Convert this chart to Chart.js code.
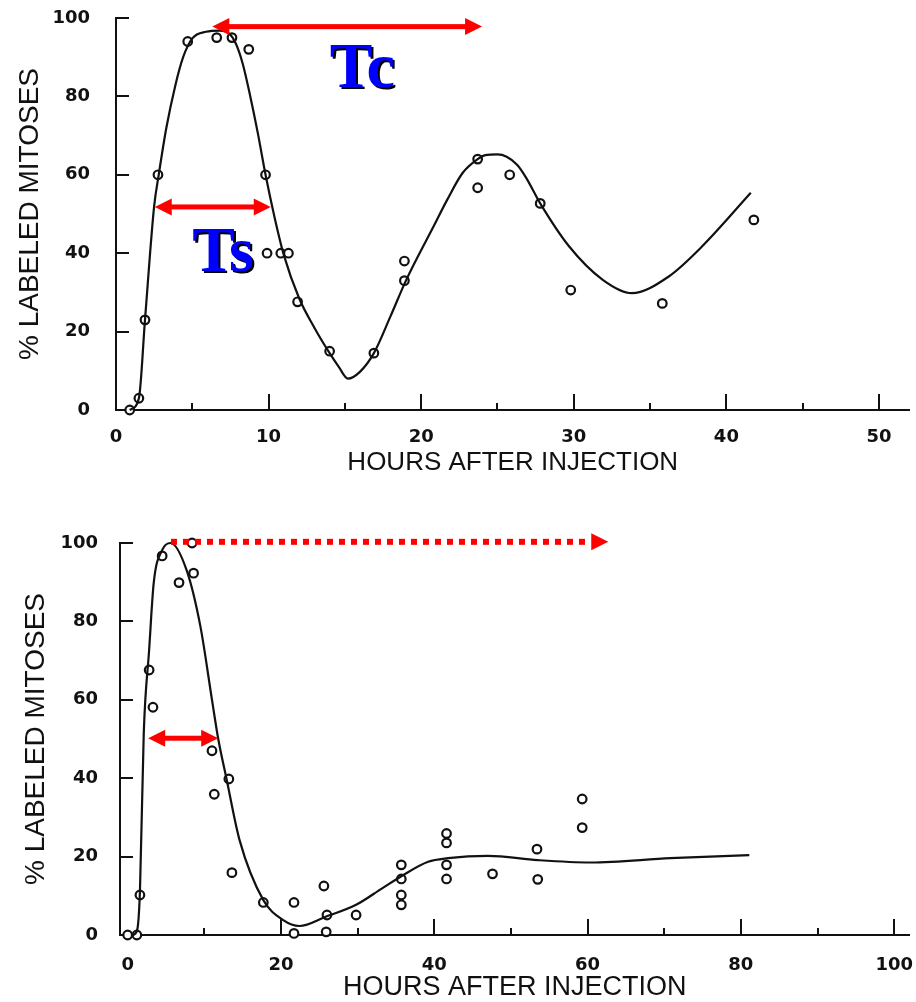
<!DOCTYPE html>
<html>
<head>
<meta charset="utf-8">
<script src="https://cdn.jsdelivr.net/npm/chart.js@4.4.1/dist/chart.umd.min.js"></script>
<style>
  body { margin: 0; background: #fff; }
  canvas { position: absolute; left: 0; }
  #topChart { top: 0; }
  #bottomChart { top: 490px; }
</style>
</head>
<body>
<canvas id="topChart" width="916" height="490"></canvas>
<canvas id="bottomChart" width="916" height="512"></canvas>
<script>
// upper experiment: measured points and the fitted curve
const topHours    = [0.9, 1.5, 1.9, 2.75, 4.7, 6.6, 7.6, 8.7, 9.8, 9.9, 10.8, 11.3, 11.9, 14.0, 16.9, 18.9, 18.9, 23.7, 23.7, 25.8, 27.8, 29.8, 35.8, 41.8];
const topLabeled  = [0, 3, 23, 60, 94, 95, 95, 92, 60, 40, 40, 40, 27.6, 15, 14.5, 38, 33, 64, 56.7, 60, 52.7, 30.6, 27.2, 48.5];
const topFitHours = [0.9, 1.5, 1.9, 2.5, 2.8, 3.3, 3.9, 4.4, 5.0, 5.9, 6.8, 7.4, 7.85, 8.3, 8.8, 9.3, 9.8, 10.4, 11.0, 12.0, 13.0, 14.0, 14.6, 15.2, 16.0, 16.9, 18.0, 19.0, 20.9, 21.7, 22.7, 23.7, 24.2, 25.0, 25.6, 26.3, 26.9, 27.8, 29.7, 31.9, 33.8, 36.2, 38.4, 41.6];
const topFit      = [0, 3, 23, 52, 60, 72, 83, 90, 94.8, 96.5, 96.8, 96.1, 93.5, 88.4, 80, 70.5, 60, 49, 39.5, 28.5, 21, 14.5, 11, 8, 9.8, 14.5, 24, 33, 47.5, 53.6, 60.4, 64, 65, 65.2, 64.6, 62.5, 59.1, 52.7, 41.7, 33.2, 29.8, 34, 41.7, 55.4];

// lower experiment
const botHours    = [0, 1.2, 1.6, 2.8, 3.3, 4.5, 6.7, 8.4, 8.6, 11.0, 11.3, 13.2, 13.6, 17.7, 21.7, 21.7, 25.6, 26.0, 25.9, 29.8, 35.7, 35.7, 35.7, 35.7, 41.6, 41.6, 41.6, 41.6, 47.6, 53.4, 53.5, 59.3, 59.3];
const botLabeled  = [0, 0, 10.2, 67.6, 58.1, 96.7, 89.9, 100, 92.3, 47, 35.9, 39.8, 15.9, 8.3, 8.3, 0.4, 12.5, 5.1, 0.8, 5.1, 17.9, 14.3, 10.2, 7.7, 25.9, 23.5, 17.9, 14.3, 15.6, 21.9, 14.2, 34.7, 27.4];
const botFitHours = [0.6, 1.2, 1.6, 2.1, 2.8, 3.4, 4.5, 5.6, 7.7, 9.5, 11.0, 11.8, 12.9, 14.6, 17.7, 20.3, 22.4, 25.9, 29.8, 33.2, 35.7, 39.2, 41.8, 47.0, 53.5, 60.4, 70.8, 81.1];
const botFit      = [0, 1, 11, 51.5, 72.7, 89.8, 98.2, 100, 93, 78.6, 60, 50.2, 39.8, 24.2, 8.9, 3.8, 2.3, 4.7, 7.7, 11.9, 15, 18.7, 19.6, 20.2, 19.1, 18.5, 19.6, 20.4];

const yTickLabels    = [0, 20, 40, 60, 80, 100];
const topXTickLabels = [0, 10, 20, 30, 40, 50];
const botXTickLabels = [0, 20, 40, 60, 80, 100];

const pts = (xs, ys) => xs.map((x, i) => ({ x: x, y: ys[i] }));

function tri(ctx, tipX, y, dir) {
  ctx.beginPath();
  ctx.moveTo(tipX, y);
  ctx.lineTo(tipX + dir * 17, y - 8.5);
  ctx.lineTo(tipX + dir * 17, y + 8.5);
  ctx.closePath();
  ctx.fill();
}

function drawArrow(ctx, x1, x2, y, ar) {
  ctx.fillStyle = '#ff0000';
  const s = ar.both ? x1 + 16 : x1;
  const e = x2 - 16;
  if (ar.dotted) {
    for (let px = s; px + 6 <= e; px += 12) ctx.fillRect(px, y - 3, 6, 6);
  } else {
    ctx.fillRect(s, y - 2.5, e - s, 5);
  }
  tri(ctx, x2, y, -1);
  if (ar.both) tri(ctx, x1, y, 1);
}

// inward tick marks, red arrows and the Tc / Ts marks
const inkPlugin = {
  id: 'ink',
  afterDraw(chart, args, o) {
    const { ctx, chartArea: a, scales: { x, y } } = chart;
    ctx.save();
    ctx.strokeStyle = '#111';
    ctx.lineWidth = 2;
    ctx.beginPath();
    y.ticks.forEach(t => {
      if (t.value === 0) return;
      const py = Math.round(y.getPixelForValue(t.value));
      ctx.moveTo(a.left, py);
      ctx.lineTo(a.left + 13, py);
    });
    x.ticks.forEach(t => {
      if (t.value <= 0) return;
      const px = Math.round(x.getPixelForValue(t.value));
      const len = t.value % o.major === 0 ? 16 : 7;
      ctx.moveTo(px, a.bottom);
      ctx.lineTo(px, a.bottom - len);
    });
    ctx.stroke();

    (o.arrows || []).forEach(ar => {
      drawArrow(ctx, x.getPixelForValue(ar.from), x.getPixelForValue(ar.to), y.getPixelForValue(ar.at), ar);
    });

    ctx.font = 'bold 64px "Liberation Serif", "Times New Roman", serif';
    ctx.textBaseline = 'alphabetic';
    (o.notes || []).forEach(n => {
      const px = x.getPixelForValue(n.x), py = y.getPixelForValue(n.y);
      ctx.fillStyle = '#000';
      ctx.fillText(n.text, px + 2, py + 2);
      ctx.fillStyle = '#0000ff';
      ctx.fillText(n.text, px, py);
    });
    ctx.restore();
  }
};

function makeChart(id, cfg) {
  const tickFont = { family: '"DejaVu Sans", sans-serif', weight: 'bold', size: 18 };
  return new Chart(document.getElementById(id), {
    type: 'scatter',
    data: {
      datasets: [
        {
          data: pts(cfg.fitX, cfg.fitY),
          showLine: true,
          cubicInterpolationMode: 'monotone',
          borderColor: '#111',
          borderWidth: 2.2,
          pointRadius: 0,
          clip: false
        },
        {
          data: pts(cfg.ptX, cfg.ptY),
          pointStyle: 'circle',
          pointRadius: 4.3,
          borderWidth: 2.2,
          borderColor: '#111',
          backgroundColor: '#fff',
          clip: false
        }
      ]
    },
    options: {
      responsive: false,
      animation: false,
      devicePixelRatio: 1,
      layout: { padding: { top: cfg.padTop, left: 0, right: 0, bottom: 0 } },
      plugins: {
        legend: { display: false },
        tooltip: { enabled: false },
        ink: { major: cfg.major, arrows: cfg.arrows, notes: cfg.notes }
      },
      scales: {
        x: {
          type: 'linear',
          min: cfg.xMin,
          max: cfg.xMax,
          grid: { display: false, drawTicks: false },
          border: { display: true, color: '#111', width: 2 },
          ticks: {
            stepSize: cfg.xStep,
            includeBounds: false,
            maxRotation: 0,
            autoSkip: false,
            padding: cfg.xPad,
            color: '#111',
            font: tickFont,
            callback: v => cfg.xLabels.includes(v) ? String(v) : ''
          },
          title: {
            display: true,
            text: 'HOURS AFTER INJECTION',
            color: '#111',
            font: { family: '"Liberation Sans", Arial, sans-serif', size: cfg.xTitleSize, lineHeight: 1 },
            padding: { top: 0, bottom: cfg.xTitlePad }
          },
          afterFit(scale) {
            scale.height = cfg.xHeight;
            scale.paddingLeft = 0;
            scale.paddingRight = 0;
          }
        },
        y: {
          min: 0,
          max: 100,
          grid: { display: false, drawTicks: false },
          border: { display: true, color: '#111', width: 2 },
          ticks: {
            stepSize: 20,
            padding: cfg.yPad,
            color: '#111',
            font: tickFont,
            callback: v => yTickLabels.includes(v) ? String(v) : ''
          },
          title: {
            display: true,
            text: '% LABELED MITOSES',
            color: '#111',
            font: { family: '"Liberation Sans", Arial, sans-serif', size: 28, lineHeight: 1 },
            padding: { top: cfg.yTitlePad, bottom: 0 }
          },
          afterFit(scale) {
            scale.width = cfg.yWidth;
            scale.paddingTop = 0;
            scale.paddingBottom = 0;
          }
        }
      }
    },
    plugins: [inkPlugin]
  });
}

makeChart('topChart', {
  ptX: topHours, ptY: topLabeled, fitX: topFitHours, fitY: topFit,
  xMin: 0, xMax: 52, xStep: 5, major: 10, xLabels: topXTickLabels,
  padTop: 18, xHeight: 80, yWidth: 116, xPad: 17, yPad: 26,
  xTitleSize: 26, xTitlePad: 14, yTitlePad: 16,
  arrows: [
    { from: 6.31, to: 23.99, at: 97.8, both: true },
    { from: 2.54, to: 10.14, at: 51.8, both: true }
  ],
  notes: [
    { text: 'Tc', x: 14.0, y: 82.5 },
    { text: 'Ts', x: 5.0, y: 35.5 }
  ]
});

makeChart('bottomChart', {
  ptX: botHours, ptY: botLabeled, fitX: botFitHours, fitY: botFit,
  xMin: -1, xMax: 102, xStep: 10, major: 20, xLabels: botXTickLabels,
  padTop: 53, xHeight: 67, yWidth: 120, xPad: 20, yPad: 22,
  xTitleSize: 27, xTitlePad: 1, yTitlePad: 22,
  arrows: [
    { from: 5.65, to: 62.7, at: 100.3, dotted: true },
    { from: 2.68, to: 11.81, at: 50.2, both: true }
  ],
  notes: []
});
</script>
</body>
</html>
